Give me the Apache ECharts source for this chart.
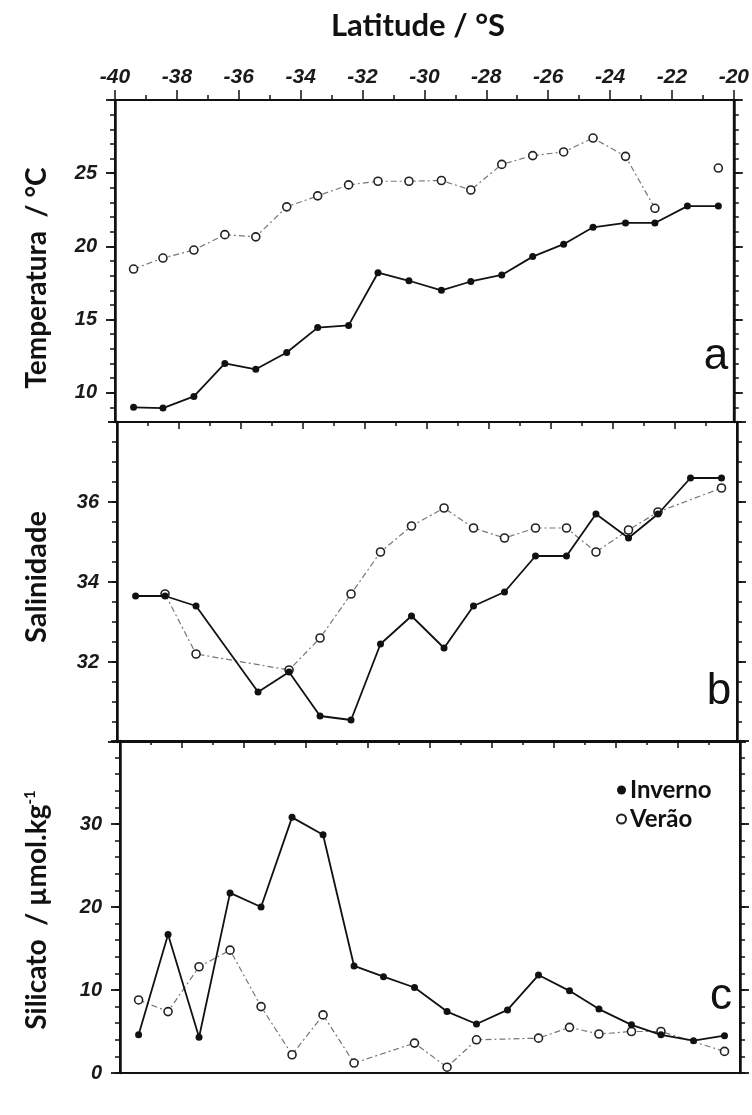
<!DOCTYPE html>
<html><head><meta charset="utf-8">
<script src="https://cdn.jsdelivr.net/npm/echarts@6/dist/echarts.min.js"></script>
<style>html,body{margin:0;padding:0;background:#fff}#c{width:752px;height:1115px}</style>
</head><body><div id="c"></div>
<script>
// ---- data ----
const latitude = [-39.4, -38.45, -37.45, -36.45, -35.45, -34.45, -33.45, -32.45, -31.5, -30.5, -29.45, -28.5, -27.5, -26.5, -25.5, -24.55, -23.5, -22.55, -21.5, -20.5];
const tempInverno = [9.0, 8.95, 9.75, 12.0, 11.6, 12.75, 14.45, 14.6, 18.2, 17.65, 17.0, 17.6, 18.05, 19.3, 20.15, 21.3, 21.6, 21.6, 22.75, 22.75];
const tempVerao = [18.45, 19.2, 19.75, 20.8, 20.65, 22.7, 23.45, 24.2, 24.45, 24.45, 24.5, 23.85, 25.6, 26.2, 26.45, 27.4, 26.15, 22.6, null, 25.35];
const salInverno = [33.65, 33.65, 33.4, null, 31.25, 31.75, 30.65, 30.55, 32.45, 33.15, 32.35, 33.4, 33.75, 34.65, 34.65, 35.7, 35.1, 35.7, 36.6, 36.6];
const salVerao = [null, 33.7, 32.2, null, null, 31.8, 32.6, 33.7, 34.75, 35.4, 35.85, 35.35, 35.1, 35.35, 35.35, 34.75, 35.3, 35.75, null, 36.35];
const silInverno = [4.6, 16.7, 4.3, 21.7, 20.0, 30.8, 28.7, 12.9, 11.6, 10.3, 7.4, 5.9, 7.6, 11.8, 9.9, 7.7, 5.8, 4.6, 3.9, 4.5];
const silVerao = [8.8, 7.4, 12.8, 14.8, 8.0, 2.2, 7.0, 1.2, null, 3.6, 0.7, 4.0, null, 4.2, 5.5, 4.7, 5.0, 5.0, null, 2.6];

// ---- axis ticks ----
const latRange = [-40, -20];
const tempRange = [8, 30];
const tempLabels = [10, 15, 20, 25];
const tempMajor = [10, 15, 20, 25, 30];
const tempMinor = [8, 9, 10, 11, 12, 13, 14, 15, 16, 17, 18, 19, 20, 21, 22, 23, 24, 25, 26, 27, 28, 29, 30];
const salRange = [30, 38];
const salLabels = [32, 34, 36];
const salMajor = [30, 32, 34, 36, 38];
const salMinor = [30, 30.5, 31, 31.5, 32, 32.5, 33, 33.5, 34, 34.5, 35, 35.5, 36, 36.5, 37, 37.5, 38];
const silRange = [0, 40];
const silLabels = [0, 10, 20, 30];
const silMajor = [0, 10, 20, 30, 40];
const silMinor = [0, 2, 4, 6, 8, 10, 12, 14, 16, 18, 20, 22, 24, 26, 28, 30, 32, 34, 36, 38, 40];

const INK = '#111';
const tickFont = { fontFamily: 'Liberation Sans', fontStyle: 'italic', fontWeight: 'bold', fontSize: 20, color: '#1a1a1a' };

function pairs(vals) { return latitude.map((x, i) => [x, vals[i] == null ? '-' : vals[i]]); }

const grids = [
  { left: 115, top: 100, width: 620, height: 322 },
  { left: 117, top: 422, width: 620, height: 320 },
  { left: 120, top: 741, width: 620, height: 332 }
].map(g => Object.assign({ show: true, borderColor: INK, borderWidth: 2, backgroundColor: 'transparent' }, g));

const xAxes = [0, 1, 2].map(g => ({
  type: 'value', gridIndex: g, position: 'top', min: latRange[0], max: latRange[1], interval: 2,
  axisLine: { show: true, onZero: false, lineStyle: { color: INK, width: 2 } },
  axisTick: { show: true, inside: g > 0, length: g > 0 ? 7 : 10, lineStyle: { color: INK, width: 1.5 } },
  minorTick: { show: true, splitNumber: 2, length: g > 0 ? 4 : 5, lineStyle: { color: INK, width: 1.5 } },
  axisLabel: Object.assign({ show: g === 0, margin: 12, formatter: v => String(v) }, tickFont, { fontSize: 21 }),
  splitLine: { show: false }
}));

const yDefs = [
  { range: tempRange, labels: tempLabels, major: tempMajor, minor: tempMinor },
  { range: salRange, labels: salLabels, major: salMajor, minor: salMinor },
  { range: silRange, labels: silLabels, major: silMajor, minor: silMinor }
];
const yAxes = [];
yDefs.forEach((d, g) => {
  ['left', 'right'].forEach(side => {
    yAxes.push({
      type: 'value', gridIndex: g, position: side, min: d.range[0], max: d.range[1],
      axisLine: { show: true, onZero: false, lineStyle: { color: INK, width: 2.5 } },
      axisTick: { show: true, customValues: d.minor, length: 5, lineStyle: { color: INK, width: 1.5 } },
      axisLabel: Object.assign({ show: side === 'left', customValues: d.labels, margin: 18 }, tickFont),
      splitLine: { show: false }
    });
    yAxes.push({
      type: 'value', gridIndex: g, position: side, min: d.range[0], max: d.range[1],
      axisLine: { show: false, onZero: false },
      axisTick: { show: true, customValues: d.major, length: 9, lineStyle: { color: INK, width: 1.8 } },
      axisLabel: { show: false },
      splitLine: { show: false }
    });
  });
});

function inverno(g, vals) {
  return {
    name: 'Inverno', type: 'line', xAxisIndex: g, yAxisIndex: g * 4, data: pairs(vals), connectNulls: true,
    symbol: 'circle', symbolSize: 7, z: 3,
    lineStyle: { color: INK, width: 1.8 },
    itemStyle: { color: INK, borderColor: INK, borderWidth: 0 }
  };
}
function verao(g, vals, connect) {
  return {
    name: 'Verão', type: 'line', xAxisIndex: g, yAxisIndex: g * 4, data: pairs(vals), connectNulls: connect,
    symbol: 'circle', symbolSize: 8, z: 2,
    lineStyle: { color: '#777', width: 1.2, type: [6, 3, 2, 3] },
    itemStyle: { color: '#fff', borderColor: '#222', borderWidth: 1.6 }
  };
}

const boldTitle = 'bold 28px Lato';
const option = {
  animation: false,
  backgroundColor: '#fff',
  grid: grids,
  xAxis: xAxes,
  yAxis: yAxes,
  legend: {
    data: ['Inverno', 'Verão'], orient: 'vertical', left: 611, top: 773, itemGap: 5,
    icon: 'circle', itemWidth: 9, itemHeight: 9, selectedMode: false,
    textStyle: { fontFamily: 'Lato', fontWeight: 'bold', fontSize: 24, color: INK, padding: [0, 0, 0, -1] }
  },
  series: [
    verao(0, tempVerao, false), inverno(0, tempInverno),
    verao(1, salVerao, true), inverno(1, salInverno),
    verao(2, silVerao, true), inverno(2, silInverno)
  ],
  graphic: [
    { type: 'text', x: 418, y: 26, style: { text: 'Latitude / °S', font: 'bold 31px Lato', fill: INK, align: 'center', verticalAlign: 'middle' } },
    { type: 'text', x: 37, y: 278, rotation: Math.PI / 2, style: { text: 'Temperatura  / °C', font: boldTitle, fill: INK, align: 'center', verticalAlign: 'middle' } },
    { type: 'text', x: 37, y: 577, rotation: Math.PI / 2, style: { text: 'Salinidade', font: 'bold 29px Lato', fill: INK, align: 'center', verticalAlign: 'middle' } },
    { type: 'text', x: 37, y: 910, rotation: Math.PI / 2, style: {
        text: 'Silicato  / µmol.kg{sup|-1}', font: boldTitle, fill: INK, align: 'center', verticalAlign: 'middle',
        rich: { sup: { font: 'bold 15px Lato', fill: INK, verticalAlign: 'top', padding: [0, 0, 12, 0] } } } },
    { type: 'text', x: 716, y: 379, style: { text: 'a', font: '44px "Liberation Sans"', fill: INK, align: 'center', verticalAlign: 'bottom' } },
    { type: 'text', x: 719, y: 714, style: { text: 'b', font: '44px "Liberation Sans"', fill: INK, align: 'center', verticalAlign: 'bottom' } },
    { type: 'text', x: 721, y: 1019, style: { text: 'c', font: '44px "Liberation Sans"', fill: INK, align: 'center', verticalAlign: 'bottom' } }
  ]
};
const chart = echarts.init(document.getElementById('c'), null, { renderer: 'canvas' });
chart.setOption(option);
</script></body></html>
